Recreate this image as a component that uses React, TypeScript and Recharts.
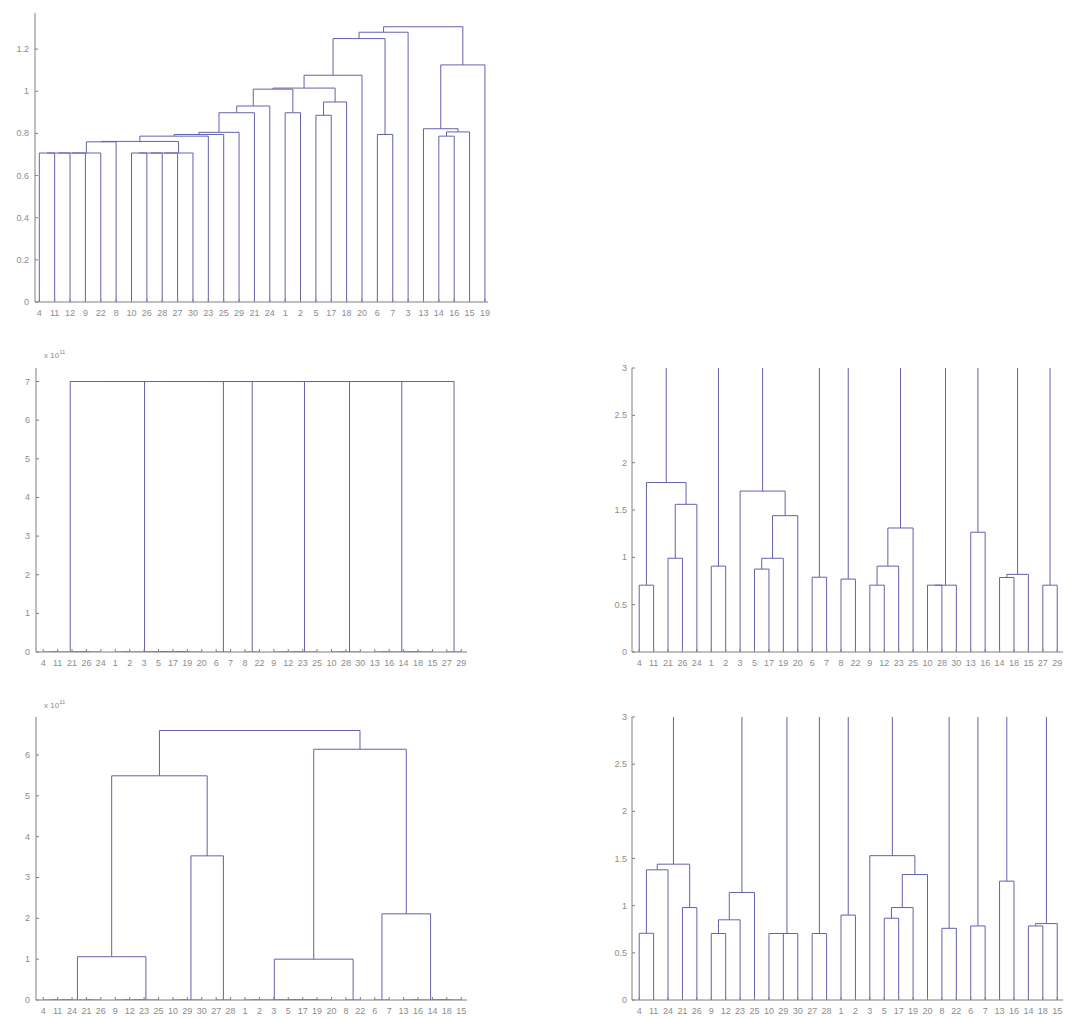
import React from 'react';
import { LineChart, Line, XAxis, YAxis } from 'recharts';

type Ref = string | number;
type Merge = [string, Ref, Ref, number];

// ---------- Panel 1 (top-left) ----------
const leaves1 = [4, 11, 12, 9, 22, 8, 10, 26, 28, 27, 30, 23, 25, 29, 21, 24, 1, 2, 5, 17, 18, 20, 6, 7, 3, 13, 14, 16, 15, 19];
const merges1: Merge[] = [
  ['a1', 4, 11, 0.707],
  ['a2', 'a1', 12, 0.707],
  ['a3', 'a2', 9, 0.707],
  ['a4', 'a3', 22, 0.707],
  ['a5', 'a4', 8, 0.76],
  ['b1', 10, 26, 0.707],
  ['b2', 'b1', 28, 0.707],
  ['b3', 'b2', 27, 0.707],
  ['b4', 'b3', 30, 0.707],
  ['c0', 'a5', 'b4', 0.762],
  ['c1', 'c0', 23, 0.787],
  ['c2', 'c1', 25, 0.795],
  ['c3', 'c2', 29, 0.805],
  ['c4', 'c3', 21, 0.898],
  ['c5', 'c4', 24, 0.93],
  ['d1', 1, 2, 0.898],
  ['e1', 5, 17, 0.886],
  ['e2', 'e1', 18, 0.949],
  ['f1', 'c5', 'd1', 1.01],
  ['f2', 'f1', 'e2', 1.015],
  ['f3', 'f2', 20, 1.076],
  ['g1', 6, 7, 0.795],
  ['f4', 'f3', 'g1', 1.25],
  ['f5', 'f4', 3, 1.28],
  ['h1', 14, 16, 0.787],
  ['h2', 'h1', 15, 0.807],
  ['h3', 13, 'h2', 0.822],
  ['h4', 'h3', 19, 1.125],
  ['top', 'f5', 'h4', 1.306],
];
const yTicks1 = [0, 0.2, 0.4, 0.6, 0.8, 1, 1.2];

// ---------- Panels 2 & 3 (middle row) ----------
const leaves2 = [4, 11, 21, 26, 24, 1, 2, 3, 5, 17, 19, 20, 6, 7, 8, 22, 9, 12, 23, 25, 10, 28, 30, 13, 16, 14, 18, 15, 27, 29];
const merges2: Merge[] = [
  ['p1', 4, 11, 0.706],
  ['p2', 21, 26, 0.99],
  ['p3', 'p2', 24, 1.56],
  ['p4', 'p1', 'p3', 1.79],
  ['q1', 1, 2, 0.907],
  ['r1', 5, 17, 0.876],
  ['r2', 'r1', 19, 0.99],
  ['r3', 'r2', 20, 1.44],
  ['r4', 3, 'r3', 1.7],
  ['s1', 6, 7, 0.79],
  ['t1', 8, 22, 0.77],
  ['u1', 9, 12, 0.706],
  ['u2', 'u1', 23, 0.907],
  ['u3', 'u2', 25, 1.31],
  ['v1', 10, 28, 0.706],
  ['v2', 'v1', 30, 0.706],
  ['w1', 13, 16, 1.265],
  ['x1', 14, 18, 0.787],
  ['x2', 'x1', 15, 0.82],
  ['y1', 27, 29, 0.706],
  ['z1', 'q1', 'r4', 4.6],
  ['z2', 'w1', 'x2', 4.1],
  ['k1', 'p4', 'z1', 7.0e11],
  ['k2', 'k1', 's1', 7.0e11],
  ['k3', 'k2', 't1', 7.0e11],
  ['k4', 'k3', 'u3', 7.0e11],
  ['k5', 'k4', 'v2', 7.0e11],
  ['k6', 'k5', 'z2', 7.0e11],
  ['k7', 'k6', 'y1', 7.0e11],
];
const yTicks2 = [0, 1e11, 2e11, 3e11, 4e11, 5e11, 6e11, 7e11];
const yTicksZoom = [0, 0.5, 1, 1.5, 2, 2.5, 3];

// ---------- Panels 4 & 5 (bottom row) ----------
const leaves4 = [4, 11, 24, 21, 26, 9, 12, 23, 25, 10, 29, 30, 27, 28, 1, 2, 3, 5, 17, 19, 20, 8, 22, 6, 7, 13, 16, 14, 18, 15];
const merges4: Merge[] = [
  ['a1', 4, 11, 0.707],
  ['a2', 'a1', 24, 1.38],
  ['a3', 21, 26, 0.98],
  ['a4', 'a2', 'a3', 1.44],
  ['b1', 9, 12, 0.705],
  ['b2', 'b1', 23, 0.85],
  ['b3', 'b2', 25, 1.14],
  ['c1', 10, 29, 0.705],
  ['c2', 'c1', 30, 0.705],
  ['d1', 27, 28, 0.705],
  ['e1', 1, 2, 0.9],
  ['f1', 5, 17, 0.867],
  ['f2', 'f1', 19, 0.98],
  ['f3', 'f2', 20, 1.33],
  ['f4', 3, 'f3', 1.53],
  ['g1', 8, 22, 0.76],
  ['h1', 6, 7, 0.785],
  ['i1', 13, 16, 1.26],
  ['j1', 14, 18, 0.785],
  ['j2', 'j1', 15, 0.81],
  ['k1', 'e1', 'f4', 3.9],
  ['k2', 'i1', 'j2', 3.7],
  ['m1', 'a4', 'b3', 1.06e11],
  ['m2', 'c2', 'd1', 3.53e11],
  ['m3', 'm1', 'm2', 5.49e11],
  ['n1', 'k1', 'g1', 1.0e11],
  ['n2', 'h1', 'k2', 2.11e11],
  ['n3', 'n1', 'n2', 6.14e11],
  ['top', 'm3', 'n3', 6.6e11],
];
const yTicks4 = [0, 1e11, 2e11, 3e11, 4e11, 5e11, 6e11];

// ---------- styling ----------
const LINE = '#6262ae';
const AXIS = '#808080';
const TEXT = '#8c8c8c';
const FONT = '"Liberation Sans", Arial, Helvetica, sans-serif';

type Pt = { x: number; y: number };

function buildLinks(leaves: number[], merges: Merge[], cap: number): Pt[][] {
  const pos = new Map<string, Pt>();
  leaves.forEach((l, i) => pos.set(String(l), { x: i + 1, y: 0 }));
  return merges.map(([id, a, b, h]) => {
    const pa = pos.get(String(a))!;
    const pb = pos.get(String(b))!;
    pos.set(id, { x: (pa.x + pb.x) / 2, y: h });
    const c = (v: number) => Math.min(v, cap);
    return [
      { x: pa.x, y: c(pa.y) },
      { x: pa.x, y: c(h) },
      { x: pb.x, y: c(h) },
      { x: pb.x, y: c(pb.y) },
    ];
  });
}

const makeXTick = (labels: number[]) => (props: any) => {
  const { x, y, payload } = props;
  const lbl = labels[Math.round(payload.value) - 1];
  return (
    <g>
      <line x1={x} y1={y} x2={x} y2={y - 3} stroke={AXIS} strokeWidth={1} />
      <text x={x} y={y + 14} textAnchor="middle" fontSize={9} fill={TEXT} fontFamily={FONT}>
        {lbl}
      </text>
    </g>
  );
};

const makeYTick = (fmt: (v: number) => string, gap: number) => (props: any) => {
  const { x, y, payload } = props;
  return (
    <g>
      <line x1={x} y1={y} x2={x + 3} y2={y} stroke={AXIS} strokeWidth={1} />
      <text x={x - gap} y={y + 3} textAnchor="end" fontSize={9} fill={TEXT} fontFamily={FONT}>
        {fmt(payload.value)}
      </text>
    </g>
  );
};

type PanelProps = {
  left: number;
  top: number;
  width: number;
  height: number;
  margin: { top: number; right: number; bottom: number; left: number };
  yWidth: number;
  xHeight: number;
  xDomain: [number, number];
  yDomain: [number, number];
  yTicks: number[];
  yFmt: (v: number) => string;
  yGap: number;
  leaves: number[];
  merges: Merge[];
  cap: number;
  exponent?: { left: number; top: number };
};

const Panel = (p: PanelProps) => {
  const links = buildLinks(p.leaves, p.merges, p.cap);
  const xTicks = p.leaves.map((_, i) => i + 1);
  return (
    <div style={{ position: 'absolute', left: p.left, top: p.top, width: p.width, height: p.height }}>
      <LineChart width={p.width} height={p.height} margin={p.margin}>
        <XAxis
          type="number"
          dataKey="x"
          domain={p.xDomain}
          ticks={xTicks}
          interval={0}
          height={p.xHeight}
          tickSize={0}
          tickMargin={0}
          tickLine={false}
          axisLine={{ stroke: AXIS }}
          tick={makeXTick(p.leaves)}
          allowDataOverflow
        />
        <YAxis
          type="number"
          dataKey="y"
          domain={p.yDomain}
          ticks={p.yTicks}
          interval={0}
          width={p.yWidth}
          tickSize={0}
          tickMargin={0}
          tickLine={false}
          axisLine={{ stroke: AXIS }}
          tick={makeYTick(p.yFmt, p.yGap)}
          allowDataOverflow
        />
        {links.map((d, i) => (
          <Line
            key={i}
            data={d}
            dataKey="y"
            type="linear"
            stroke={LINE}
            strokeWidth={1}
            dot={false}
            activeDot={false}
            isAnimationActive={false}
          />
        ))}
      </LineChart>
      {p.exponent && (
        <div
          style={{
            position: 'absolute',
            left: p.exponent.left,
            top: p.exponent.top,
            fontFamily: FONT,
            fontSize: 8,
            color: TEXT,
            whiteSpace: 'nowrap',
            lineHeight: '10px',
          }}
        >
          x 10<span style={{ fontSize: 6, position: 'relative', top: -4 }}>11</span>
        </div>
      )}
    </div>
  );
};

const fmtPlain = (v: number) => String(Math.round(v * 10) / 10);
const fmtE11 = (v: number) => String(Math.round(v / 1e11));

export default function App() {
  return (
    <div style={{ position: 'absolute', left: 0, top: 0, width: 1069, height: 1019, background: '#ffffff' }}>
      <Panel
        left={0}
        top={0}
        width={500}
        height={330}
        margin={{ top: 13, right: 12, bottom: 8, left: 0 }}
        yWidth={35}
        xHeight={20}
        xDomain={[0.72, 30.2]}
        yDomain={[0, 1.3713]}
        yTicks={yTicks1}
        yFmt={fmtPlain}
        yGap={6}
        leaves={leaves1}
        merges={merges1}
        cap={Infinity}
      />
      <Panel
        left={0}
        top={340}
        width={480}
        height={340}
        margin={{ top: 28, right: 13, bottom: 8, left: 0 }}
        yWidth={36}
        xHeight={20}
        xDomain={[0.5, 30.4]}
        yDomain={[0, 7.35e11]}
        yTicks={yTicks2}
        yFmt={fmtE11}
        yGap={6}
        leaves={leaves2}
        merges={merges2}
        cap={Infinity}
        exponent={{ left: 44, top: 11 }}
      />
      <Panel
        left={590}
        top={340}
        width={479}
        height={340}
        margin={{ top: 28, right: 6, bottom: 8, left: 0 }}
        yWidth={42}
        xHeight={20}
        xDomain={[0.5, 30.4]}
        yDomain={[0, 3]}
        yTicks={yTicksZoom}
        yFmt={fmtPlain}
        yGap={5}
        leaves={leaves2}
        merges={merges2}
        cap={3.3}
      />
      <Panel
        left={0}
        top={690}
        width={480}
        height={329}
        margin={{ top: 27, right: 13, bottom: 3, left: 0 }}
        yWidth={36}
        xHeight={16}
        xDomain={[0.5, 30.4]}
        yDomain={[0, 6.93e11]}
        yTicks={yTicks4}
        yFmt={fmtE11}
        yGap={6}
        leaves={leaves4}
        merges={merges4}
        cap={Infinity}
        exponent={{ left: 44, top: 11 }}
      />
      <Panel
        left={590}
        top={690}
        width={479}
        height={329}
        margin={{ top: 27, right: 6, bottom: 3, left: 0 }}
        yWidth={42}
        xHeight={16}
        xDomain={[0.5, 30.4]}
        yDomain={[0, 3]}
        yTicks={yTicksZoom}
        yFmt={fmtPlain}
        yGap={5}
        leaves={leaves4}
        merges={merges4}
        cap={3.3}
      />
    </div>
  );
}
